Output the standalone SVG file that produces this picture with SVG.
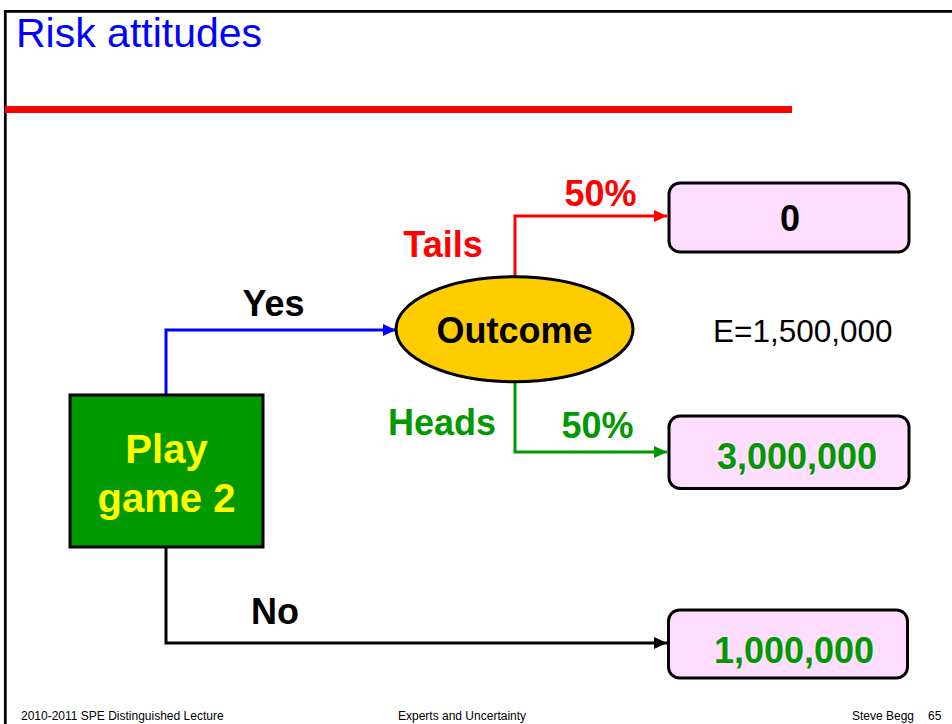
<svg xmlns="http://www.w3.org/2000/svg" width="952" height="724" viewBox="0 0 952 724">
  <style>
    text { font-family: "Liberation Sans", Arial, sans-serif; }
    .lbl { font-size: 36px; font-weight: bold; text-anchor: middle; }
    .big { font-size: 40px; font-weight: bold; text-anchor: middle; }
    .foot { font-size: 12px; fill: #000; }
    .result { fill: #FFDDFF; stroke: #000; stroke-width: 3; }
    .conn { fill: none; stroke-width: 3; }
  </style>
  <defs>
    <marker id="ahBlue" markerUnits="userSpaceOnUse" markerWidth="14" markerHeight="12" refX="13" refY="6" orient="auto">
      <path d="M0,0 L13,6 L0,12 z" fill="#0000FF"/>
    </marker>
    <marker id="ahRed" markerUnits="userSpaceOnUse" markerWidth="14" markerHeight="12" refX="13" refY="6" orient="auto">
      <path d="M0,0 L13,6 L0,12 z" fill="#FF0000"/>
    </marker>
    <marker id="ahGreen" markerUnits="userSpaceOnUse" markerWidth="14" markerHeight="12" refX="13" refY="6" orient="auto">
      <path d="M0,0 L13,6 L0,12 z" fill="#009900"/>
    </marker>
    <marker id="ahBlack" markerUnits="userSpaceOnUse" markerWidth="14" markerHeight="12" refX="13" refY="6" orient="auto">
      <path d="M0,0 L13,6 L0,12 z" fill="#000"/>
    </marker>
  </defs>

  <rect width="952" height="724" fill="#fff"/>

  <!-- slide frame -->
  <path d="M5.3,724 V11.3 H952" fill="none" stroke="#000" stroke-width="2.7"/>

  <!-- title and rule -->
  <text x="16" y="47" font-size="41" fill="#0000FF">Risk attitudes</text>
  <rect x="5" y="106" width="787" height="7" fill="#FF0000"/>

  <!-- connectors -->
  <g id="connectors">
    <path class="conn" d="M166,396 V330 H396" stroke="#0000FF" marker-end="url(#ahBlue)"/>
    <path class="conn" d="M515,277 V216 H667" stroke="#FF0000" marker-end="url(#ahRed)"/>
    <path class="conn" d="M515,382 V452 H667" stroke="#009900" marker-end="url(#ahGreen)"/>
    <path class="conn" d="M166,547 V643 H667" stroke="#000" marker-end="url(#ahBlack)"/>
    <text class="lbl" x="273.5" y="316" font-size="35" fill="#000">Yes</text>
    <text class="lbl" x="600.5" y="206" fill="#FF0000">50%</text>
    <text class="lbl" x="443" y="257" fill="#FF0000">Tails</text>
    <text class="lbl" x="442" y="435" fill="#009900">Heads</text>
    <text class="lbl" x="597.5" y="438" fill="#009900">50%</text>
    <text class="lbl" x="275" y="624" fill="#000">No</text>
  </g>

  <!-- decision node -->
  <g id="decision">
    <rect x="70" y="395" width="193" height="152" fill="#009900" stroke="#000" stroke-width="3"/>
    <text class="big" x="166.5" y="463" fill="#FFFF00">Play</text>
    <text class="big" x="166.5" y="512" fill="#FFFF00">game 2</text>
  </g>

  <!-- chance node -->
  <g id="outcome">
    <ellipse cx="514.5" cy="329.2" rx="118.5" ry="52.5" fill="#FFCC00" stroke="#000" stroke-width="3"/>
    <text class="lbl" x="514.5" y="342.5" fill="#000">Outcome</text>
  </g>

  <!-- payoffs -->
  <g id="payoff-tails">
    <rect class="result" x="669" y="183" width="240" height="69" rx="11"/>
    <text class="lbl" x="790" y="231" fill="#000">0</text>
  </g>
  <g id="payoff-heads">
    <rect class="result" x="669" y="416" width="240" height="72.5" rx="11"/>
    <text class="lbl" x="797" y="469" fill="#009900">3,000,000</text>
  </g>
  <g id="payoff-no">
    <rect class="result" x="668.5" y="610" width="239" height="68" rx="11"/>
    <text class="lbl" x="794" y="663" fill="#009900">1,000,000</text>
  </g>

  <g id="expected-value">
    <text x="713" y="342" font-size="31.5" fill="#000">E=1,500,000</text>
  </g>

  <!-- footer -->
  <text class="foot" x="21" y="720">2010-2011 SPE Distinguished Lecture</text>
  <text class="foot" x="398" y="720">Experts and Uncertainty</text>
  <text class="foot" x="852" y="720">Steve Begg</text>
  <text class="foot" x="928" y="720" font-size="13">65</text>
</svg>
